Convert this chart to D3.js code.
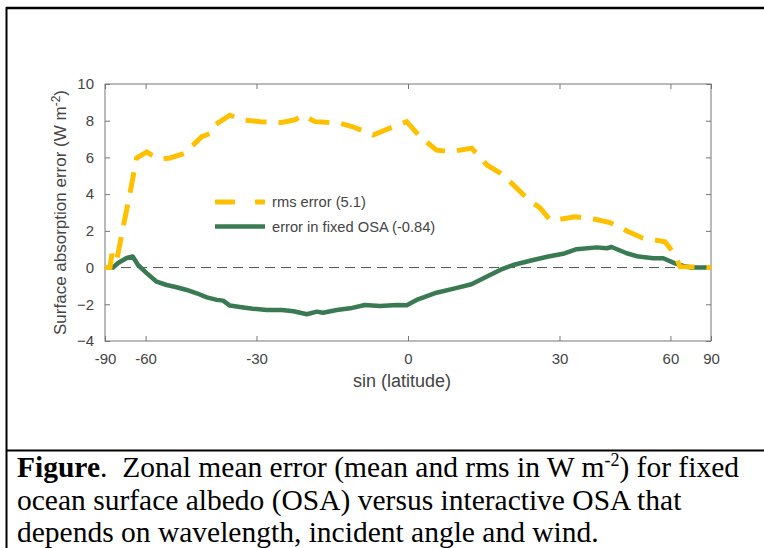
<!DOCTYPE html>
<html>
<head>
<meta charset="utf-8">
<script src="https://cdn.jsdelivr.net/npm/d3@7"></script>
<style>
  body { margin: 0; background: #fff; }
  svg { display: block; }
  .tick text { font-family: "Liberation Sans", Arial, sans-serif; font-size: 15px; fill: #444; }
  .tick line { stroke: #777; }
</style>
</head>
<body>
<svg width="764" height="548"></svg>
<script>
// latitude (deg) and values
var rmsLat = [-90, -79.6, -77.7, -76.0, -73.8, -71.9, -70.7, -66.55, -63.6, -59.5, -57.8, -54.9, -51.8, -47.4, -42.9, -40.8, -39.6, -36, -33, -29.2, -24.6, -21.9, -20.3, -17.9, -13, -10.5, -6.6, -3.4, -0.25, 2.27, 5.4, 7.97, 12.14, 15.1, 17.7, 19.67, 23.06, 25.83, 27.95, 30.1, 33.45, 38.1, 41.8, 46.55, 50.86, 58.03, 61.8, 63.85, 90];
var rmsVal = [0, 0, 0.75, 0.3, 0.5, 1.3, 1.9, 4.06, 5.97, 6.3, 6.13, 5.9, 5.97, 6.23, 7.13, 7.3, 7.77, 8.3, 8.04, 7.95, 7.9, 8.05, 8.3, 7.95, 7.86, 7.67, 7.22, 7.6, 7.95, 7.13, 6.4, 6.31, 6.5, 5.59, 5.15, 4.68, 3.8, 3.25, 2.6, 2.63, 2.77, 2.63, 2.45, 1.96, 1.6, 1.41, 0.69, 0.05, 0];

var errLat = [-90, -76.8, -73.1, -68.2, -65.3, -63, -59.6, -56.05, -52.8, -49.8, -46.9, -44.2, -41.6, -39.1, -37.6, -36, -33.3, -30.8, -27.8, -24.6, -22.2, -19.5, -17.5, -16.3, -13.6, -11, -8.2, -5.3, -2.1, -0.25, 1.9, 5.4, 8.9, 12.1, 15.1, 17.7, 20.3, 24.4, 27.6, 30.8, 33.8, 38.5, 41.0, 42.2, 46.2, 49.5, 54.1, 57.4, 61.8, 65.3, 69.4, 90];
var errVal = [0, 0, 0.25, 0.52, 0.6, 0.14, -0.3, -0.77, -0.95, -1.07, -1.22, -1.4, -1.62, -1.76, -1.8, -2.07, -2.16, -2.24, -2.31, -2.31, -2.38, -2.54, -2.4, -2.46, -2.31, -2.22, -2.04, -2.09, -2.04, -2.05, -1.73, -1.37, -1.13, -0.91, -0.49, -0.13, 0.14, 0.41, 0.6, 0.75, 1.0, 1.1, 1.05, 1.12, 0.78, 0.6, 0.51, 0.51, 0.23, 0.09, 0, 0];

var latTicks = [-90, -60, -30, 0, 30, 60, 90];
var yTicks = [-4, -2, 0, 2, 4, 6, 8, 10];
var legendLabels = ["rms error (5.1)", "error in fixed OSA (-0.84)"];
var colors = ["#FFC000", "#3A7A52"];

var svg = d3.select("svg");

function sinDeg(d) { return Math.sin(d * Math.PI / 180); }

// plot box (top is a reserved window name, so use pLeft etc.)
var pLeft = 105, pRight = 711, pTop = 84, pBottom = 341;

var x = d3.scaleLinear().domain([-1, 1]).range([pLeft, pRight]);
var y = d3.scaleLinear().domain([-4, 10]).range([pBottom, pTop]);

// figure frame
svg.append("line").attr("x1", 6).attr("x2", 764).attr("y1", 8).attr("y2", 8)
    .attr("stroke", "#000").attr("stroke-width", 2.5);
svg.append("line").attr("x1", 6.5).attr("x2", 6.5).attr("y1", 7).attr("y2", 548)
    .attr("stroke", "#000").attr("stroke-width", 2);
svg.append("line").attr("x1", 6).attr("x2", 764).attr("y1", 450.5).attr("y2", 450.5)
    .attr("stroke", "#000").attr("stroke-width", 2);

// axes (ticks inward on all four sides)
var xt = latTicks.map(sinDeg);
var fmt = function(d) { return Math.round(Math.asin(d) * 180 / Math.PI); };

svg.append("g").attr("transform", "translate(0," + pBottom + ")")
    .call(d3.axisBottom(x).tickValues(xt).tickFormat(fmt).tickSize(-5).tickSizeOuter(0).tickPadding(12))
    .call(function(g) { g.select(".domain").remove(); });
svg.append("g").attr("transform", "translate(0," + pTop + ")")
    .call(d3.axisTop(x).tickValues(xt).tickFormat("").tickSize(-5).tickSizeOuter(0))
    .call(function(g) { g.select(".domain").remove(); });
svg.append("g").attr("transform", "translate(" + pLeft + ",0)")
    .call(d3.axisLeft(y).tickValues(yTicks).tickSize(-5).tickSizeOuter(0).tickPadding(11))
    .call(function(g) { g.select(".domain").remove(); });
svg.append("g").attr("transform", "translate(" + pRight + ",0)")
    .call(d3.axisRight(y).tickValues(yTicks).tickFormat("").tickSize(-5).tickSizeOuter(0))
    .call(function(g) { g.select(".domain").remove(); });

svg.append("rect").attr("x", pLeft).attr("y", pTop)
    .attr("width", pRight - pLeft).attr("height", pBottom - pTop)
    .attr("fill", "none").attr("stroke", "#777").attr("stroke-width", 1);

// zero line
svg.append("line").attr("x1", pLeft).attr("x2", pRight).attr("y1", y(0)).attr("y2", y(0))
    .attr("stroke", "#555").attr("stroke-width", 1).attr("stroke-dasharray", "10,6");

var line = d3.line()
    .x(function(d) { return x(sinDeg(d[0])); })
    .y(function(d) { return y(d[1]); });

svg.append("path")
    .datum(d3.zip(errLat, errVal))
    .attr("d", line)
    .attr("fill", "none").attr("stroke", colors[1]).attr("stroke-width", 4.5)
    .attr("stroke-linejoin", "round");

svg.append("path")
    .datum(d3.zip(rmsLat, rmsVal))
    .attr("d", line)
    .attr("fill", "none").attr("stroke", colors[0]).attr("stroke-width", 5)
    .attr("stroke-dasharray", "21,12");

// legend
var leg = svg.append("g").attr("transform", "translate(215,202)");
leg.append("line").attr("x1", 0).attr("x2", 50).attr("y1", 0).attr("y2", 0)
    .attr("stroke", colors[0]).attr("stroke-width", 5).attr("stroke-dasharray", "20,20");
leg.append("line").attr("x1", 0).attr("x2", 50).attr("y1", 24.5).attr("y2", 24.5)
    .attr("stroke", colors[1]).attr("stroke-width", 4.5);
leg.selectAll("text").data(legendLabels).enter().append("text")
    .attr("x", 57).attr("y", function(d, i) { return i * 24.5 + 5.3; })
    .attr("font-family", "Liberation Sans, Arial, sans-serif").attr("font-size", 14.7)
    .attr("fill", "#444")
    .text(function(d) { return d; });

// axis titles
svg.append("text").attr("x", 402).attr("y", 387)
    .attr("text-anchor", "middle")
    .attr("font-family", "Liberation Sans, Arial, sans-serif").attr("font-size", 18)
    .attr("fill", "#444")
    .text("sin (latitude)");

var yl = svg.append("text")
    .attr("transform", "translate(66," + ((pTop + pBottom) / 2) + ") rotate(-90)")
    .attr("text-anchor", "middle")
    .attr("font-family", "Liberation Sans, Arial, sans-serif").attr("font-size", 17)
    .attr("fill", "#444");
yl.append("tspan").text("Surface absorption error (W m");
yl.append("tspan").attr("font-size", 12).attr("dy", -6).text("-2");
yl.append("tspan").attr("dy", 6).text(")");

// caption
var cap = svg.append("g").attr("font-family", "Liberation Serif, 'Times New Roman', serif")
    .attr("font-size", 29.5).attr("fill", "#000");
var l1 = cap.append("text").attr("x", 17).attr("y", 477);
l1.append("tspan").attr("font-weight", "bold").text("Figure");
l1.append("tspan").text(".\u00a0 Zonal mean error (mean and rms in W m");
l1.append("tspan").attr("font-size", 18).attr("dy", -11).text("-2");
l1.append("tspan").attr("dy", 11).text(") for fixed");
cap.append("text").attr("x", 17).attr("y", 510)
    .text("ocean surface albedo (OSA) versus interactive OSA that");
cap.append("text").attr("x", 17).attr("y", 542)
    .text("depends on wavelength, incident angle and wind.");
</script>
</body>
</html>
